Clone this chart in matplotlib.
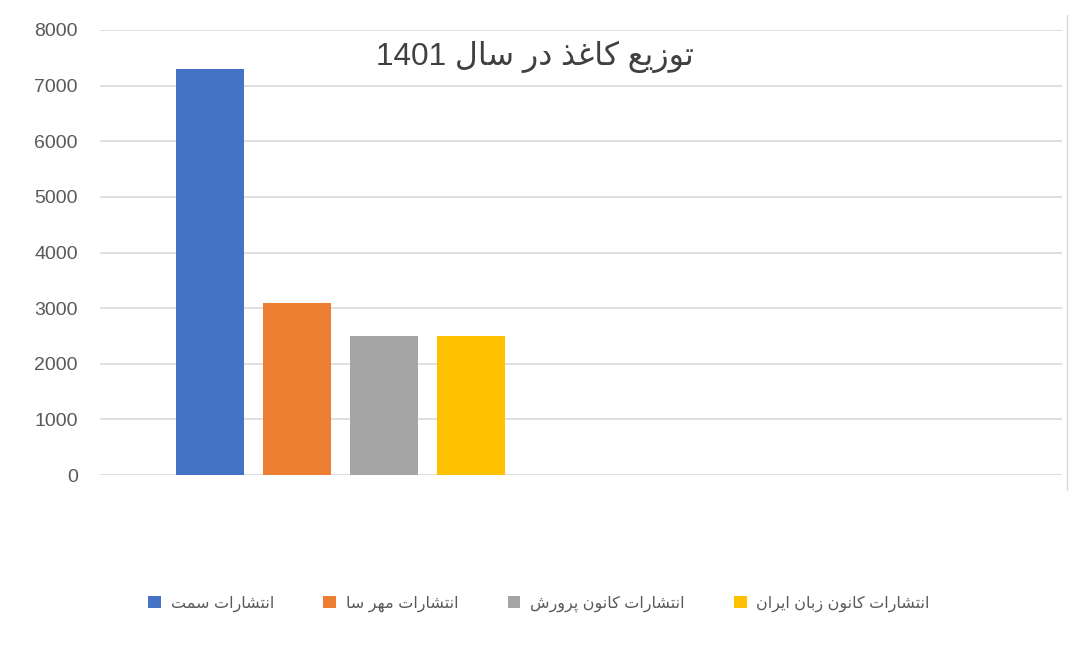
import matplotlib
matplotlib.use("Agg")
import matplotlib.pyplot as plt
from matplotlib import font_manager, ft2font
from matplotlib.patches import Patch
from matplotlib.lines import Line2D

# ---------------- data ----------------
title_text = "توزیع کاغذ در سال 1401"
series_names = ["انتشارات سمت", "انتشارات مهر سا", "انتشارات کانون پرورش", "انتشارات کانون زبان ایران"]
series_values = [7300, 3100, 2500, 2500]
series_colors = ["#4472C4", "#ED7D31", "#A5A5A5", "#FFC000"]
categories = ["1401", ""]          # second category is empty in the reference
y_ticks = [0, 1000, 2000, 3000, 4000, 5000, 6000, 7000, 8000]

# ---------------- minimal Persian shaping ----------------
FORMS = {
    'ا': ('\uFE8D', '\uFE8E', None, None),
    'ب': ('\uFE8F', '\uFE90', '\uFE91', '\uFE92'),
    'پ': ('\uFB56', '\uFB57', '\uFB58', '\uFB59'),
    'ت': ('\uFE95', '\uFE96', '\uFE97', '\uFE98'),
    'د': ('\uFEA9', '\uFEAA', None, None),
    'ذ': ('\uFEAB', '\uFEAC', None, None),
    'ر': ('\uFEAD', '\uFEAE', None, None),
    'ز': ('\uFEAF', '\uFEB0', None, None),
    'س': ('\uFEB1', '\uFEB2', '\uFEB3', '\uFEB4'),
    'ش': ('\uFEB5', '\uFEB6', '\uFEB7', '\uFEB8'),
    'ع': ('\uFEC9', '\uFECA', '\uFECB', '\uFECC'),
    'غ': ('\uFECD', '\uFECE', '\uFECF', '\uFED0'),
    'ک': ('\uFB8E', '\uFB8F', '\uFB90', '\uFB91'),
    'ل': ('\uFEDD', '\uFEDE', '\uFEDF', '\uFEE0'),
    'م': ('\uFEE1', '\uFEE2', '\uFEE3', '\uFEE4'),
    'ن': ('\uFEE5', '\uFEE6', '\uFEE7', '\uFEE8'),
    'ه': ('\uFEE9', '\uFEEA', '\uFEEB', '\uFEEC'),
    'و': ('\uFEED', '\uFEEE', None, None),
    'ی': ('\uFBFC', '\uFBFD', '\uFBFE', '\uFBFF'),
}
FALLBACK = {
    'ک': ('\uFED9', '\uFEDA', '\uFEDB', '\uFEDC'),
    'ی': ('\uFEEF', '\uFEF0', '\uFEF3', '\uFEF4'),
    'پ': ('\uFE8F', '\uFE90', '\uFE91', '\uFE92'),
}
try:
    _cmap = ft2font.FT2Font(font_manager.findfont("DejaVu Sans")).get_charmap()
    for k, forms in list(FORMS.items()):
        if any(f is not None and ord(f) not in _cmap for f in forms) and k in FALLBACK:
            FORMS[k] = FALLBACK[k]
except Exception:
    pass


def dual(c):
    return c in FORMS and FORMS[c][2] is not None


def shape(s):
    out = []
    i = 0
    n = len(s)
    while i < n:
        c = s[i]
        if c not in FORMS:
            out.append(c)
            i += 1
            continue
        prev_join = i > 0 and dual(s[i - 1])
        if c == 'ل' and i + 1 < n and s[i + 1] == 'ا':
            out.append('\uFEFC' if prev_join else '\uFEFB')
            i += 2
            continue
        next_join = dual(c) and i + 1 < n and s[i + 1] in FORMS
        iso, fin, ini, med = FORMS[c]
        if prev_join and next_join:
            out.append(med)
        elif prev_join:
            out.append(fin)
        elif next_join:
            out.append(ini)
        else:
            out.append(iso)
        i += 1
    shaped = "".join(out)
    # visual reorder: RTL base, keep digit runs LTR
    runs = []
    cur = ""
    cur_digit = None
    for ch in shaped:
        d = ch.isdigit()
        if cur_digit is None or d == cur_digit:
            cur += ch
        else:
            runs.append((cur, cur_digit))
            cur = ch
        cur_digit = d
    if cur:
        runs.append((cur, cur_digit))
    vis = [r if d else r[::-1] for r, d in runs[::-1]]
    return "".join(vis)


# ---------------- figure ----------------
plt.rcParams['font.family'] = ['Liberation Sans', 'DejaVu Sans']
W, H = 1070, 670
fig = plt.figure(figsize=(W / 100, H / 100), dpi=100)
fig.patch.set_facecolor("white")

ax = fig.add_axes([100 / W, 1 - 475 / H, (1062 - 100) / W, (475 - 30) / H])
ax.set_facecolor("white")

n_series = len(series_values)
bar_w = 0.1414
step = 0.1815
cat_index = 0
for i, (name, val, col) in enumerate(zip(series_names, series_values, series_colors)):
    x = cat_index + (i - (n_series - 1) / 2) * step
    ax.bar(x, val, width=bar_w, color=col, zorder=3, label=shape(name))

ax.set_xlim(-0.5, len(categories) - 0.5)
ax.set_ylim(0, 8000)
ax.set_yticks(y_ticks)
ax.set_yticklabels([str(t) for t in y_ticks])
ax.set_xticks([])
ax.tick_params(axis='y', length=0, pad=16, labelsize=14, labelcolor="#595959")
for sp in ax.spines.values():
    sp.set_visible(False)
ax.yaxis.grid(True, color="#D9D9D9", linewidth=1.2, zorder=0)
ax.set_axisbelow(True)

fig.text(535 / W, 1 - 57 / H, shape(title_text), ha="center", va="center",
         fontsize=22.8, color="#404040")

handles = [Patch(facecolor=c, edgecolor="none") for c in series_colors]
leg = fig.legend(handles, [shape(s) for s in series_names], loc="center",
                 bbox_to_anchor=(539 / W, 1 - 604 / H), ncol=4, frameon=False,
                 fontsize=11.5, handlelength=0.8, handleheight=0.8, handletextpad=0.6,
                 columnspacing=3.1, labelcolor="#595959")

# faint right border of the chart area
fig.add_artist(Line2D([1067 / W, 1067 / W], [1 - 490 / H, 1 - 15 / H],
                      transform=fig.transFigure, color="#D8D8D8", linewidth=1))

fig.savefig("out.png", dpi=100, facecolor="white")
